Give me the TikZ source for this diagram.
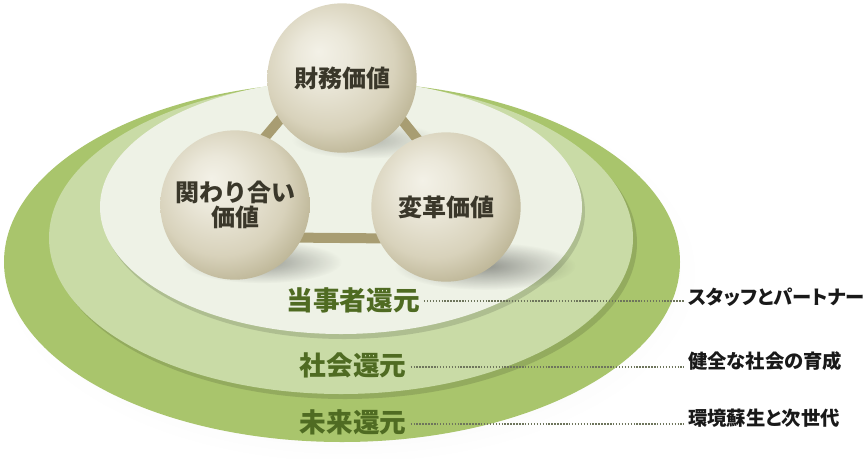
\documentclass[tikz,border=0pt]{standalone}
\usepackage{fontspec}
\newfontfamily\jp{Noto Sans CJK JP}
\newfontfamily\jpp{Noto Sans CJK JP}[RawFeature=+palt]
\usetikzlibrary{fadings}
\definecolor{outerg}{HTML}{A9C56C}
\definecolor{midg}{HTML}{C9DBA6}
\definecolor{innerg}{HTML}{EEF2E6}
\definecolor{lblg}{HTML}{4F6B22}
\definecolor{barc}{HTML}{A89D72}
\definecolor{sphL}{HTML}{F3F1E7}
\definecolor{sphM}{HTML}{D8D2BB}
\definecolor{sphD}{HTML}{B1A986}
\definecolor{txtd}{HTML}{3A372A}
\definecolor{dotc}{HTML}{6E755C}
\pgfdeclareradialshading{sphere}{\pgfpoint{-8bp}{9bp}}{color(0bp)=(sphL); color(9bp)=(sphL!70!sphM); color(22bp)=(sphM); color(34bp)=(sphD); color(50bp)=(sphD)}
\tikzfading[name=fuzzy, inner color=transparent!0, outer color=transparent!100]
\pgfdeclarelayer{plates}
\pgfdeclarelayer{bars}
\pgfsetlayers{plates,bars,main}
\tikzset{
  ball/.style={circle, minimum size=112pt, inner sep=0pt, shading=sphere, align=center, text=txtd, font=\jp\bfseries\fontsize{18}{22}\selectfont},
  barline/.style={draw=barc, line width=7.5pt},
  greenlbl/.style={text=lblg, font=\jp\bfseries\fontsize{20}{24}\selectfont, inner sep=3pt},
  sidelbl/.style={anchor=west, text=black!90, font=\jpp\bfseries\fontsize{14.5}{17}\selectfont, inner sep=3pt},
  dotline/.style={draw=dotc, line width=1.7pt, dash pattern=on 1.1pt off 1.1pt},
  platesh/.style={fill=black, opacity=0.13},
}
\begin{document}
\begin{tikzpicture}[x=0.75pt, y=-0.75pt]
\useasboundingbox (0,0) rectangle (868,458);
% plates
\begin{pgfonlayer}{plates}
  \fill[black, opacity=0.10, path fading=fuzzy] (350,272) ellipse [x radius=262pt, y radius=144pt];
  \fill[outerg] (342,262) ellipse [x radius=253.5pt, y radius=135pt];
  \fill[platesh] (345,243) ellipse [x radius=219pt, y radius=117pt];
  \fill[midg] (341,238) ellipse [x radius=219pt, y radius=117pt];
  \fill[platesh] (344,212) ellipse [x radius=180.75pt, y radius=95.25pt];
  \fill[innerg] (341,207) ellipse [x radius=180.75pt, y radius=95.25pt];
  % sphere shadows
  \fill[black, opacity=0.35, path fading=fuzzy] (262,262) ellipse [x radius=60pt, y radius=16pt];
  \fill[black, opacity=0.38, path fading=fuzzy] (485,266) ellipse [x radius=68pt, y radius=18pt];
  \fill[black, opacity=0.25, path fading=fuzzy] (365,140) ellipse [x radius=55pt, y radius=14pt];
\end{pgfonlayer}
% spheres
\node[ball] (fin) at (342,78) {財務価値};
\node[ball] (kan) at (235,205) {関わり合い\\[-3pt]価値};
\node[ball] (hen) at (446,207) {変革価値};
% connecting bars behind spheres
\begin{pgfonlayer}{bars}
  \draw[barline] ([xshift=-8.6pt, yshift=13.9pt]fin.center) -- ([xshift=-8.6pt, yshift=13.9pt]kan.center);
  \draw[barline] ([xshift=9pt, yshift=13.1pt]fin.center) -- ([xshift=9pt, yshift=13.1pt]hen.center);
  \draw[barline] ([yshift=-24pt]kan.center) -- ([yshift=-24pt]hen.center);
\end{pgfonlayer}
% labels
\node[greenlbl] (l1) at (353,300) {当事者還元};
\node[greenlbl] (l2) at (353,365) {社会還元};
\node[greenlbl] (l3) at (353,422) {未来還元};
\node[sidelbl] (r1) at (684,297) {スタッフとパートナー};
\node[sidelbl] (r2) at (684,361) {健全な社会の育成};
\node[sidelbl] (r3) at (684,418) {環境蘇生と次世代};
\draw[dotline] ([yshift=-1pt]l1.east) -- ([yshift=-1pt]l1.east -| r1.west);
\draw[dotline] ([yshift=-1.5pt]l2.east) -- ([yshift=-1.5pt]l2.east -| r2.west);
\draw[dotline] ([yshift=-1.5pt]l3.east) -- ([yshift=-1.5pt]l3.east -| r3.west);
\end{tikzpicture}
\end{document}
